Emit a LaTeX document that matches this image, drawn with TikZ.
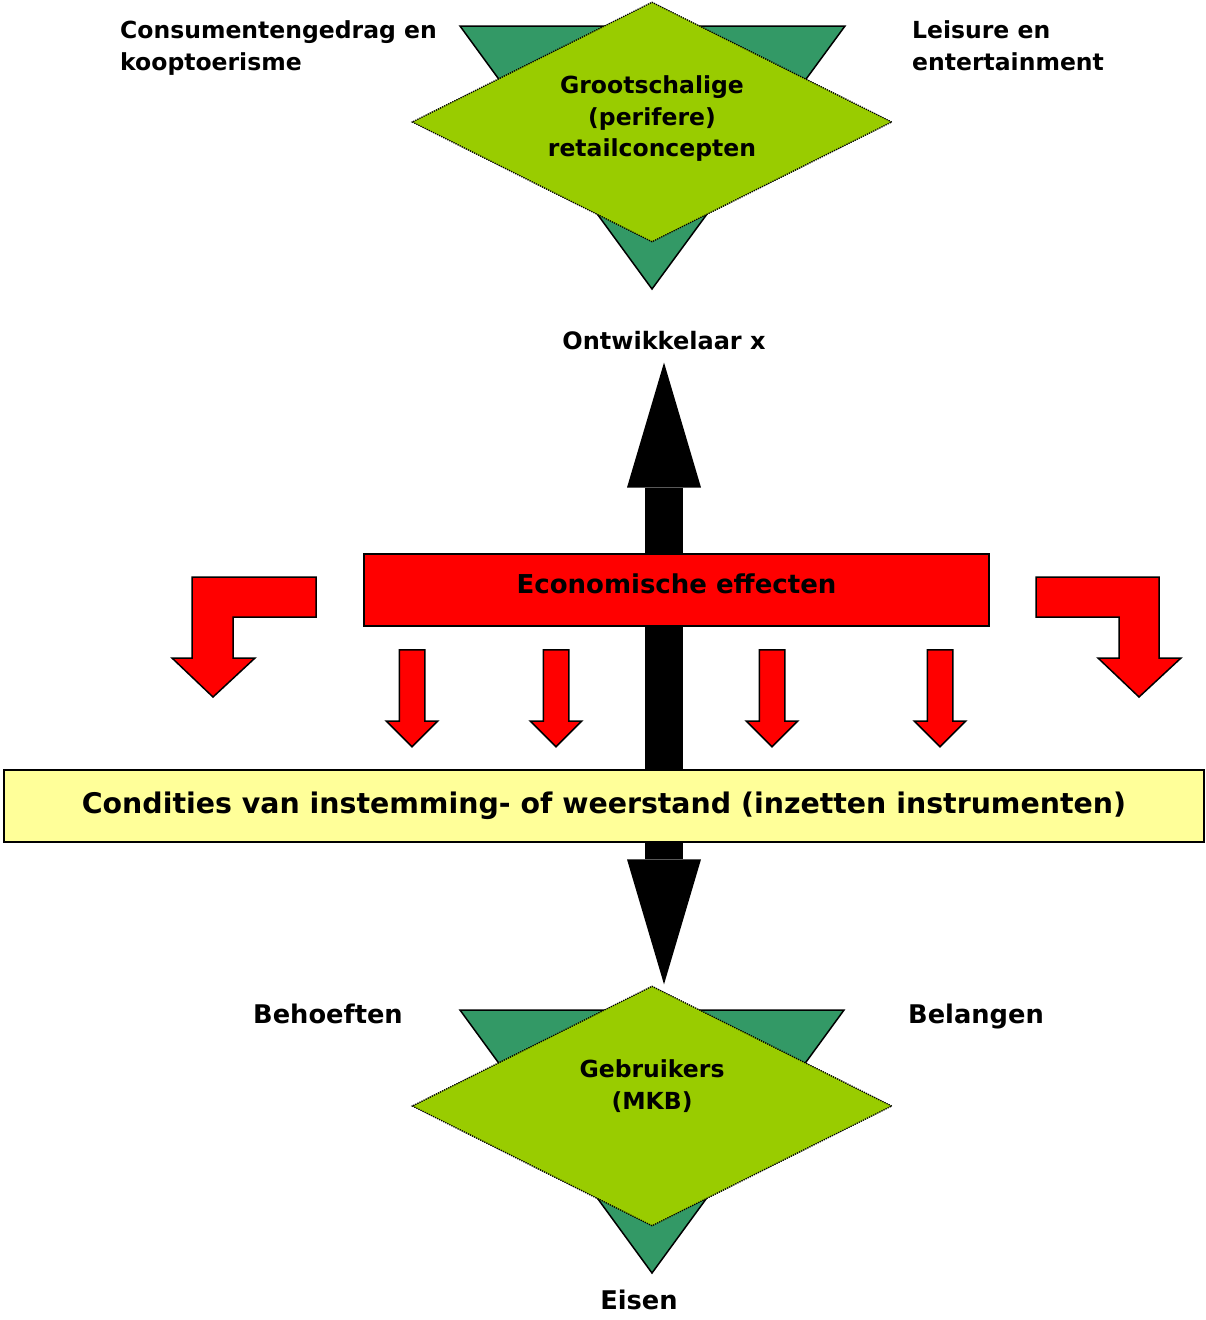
\documentclass[tikz,border=0pt]{standalone}
\usepackage{fontspec}
\setmainfont{DejaVu Sans}
\usepackage{xcolor}
\usetikzlibrary{shapes.geometric,shapes.arrows,arrows.meta,positioning}
\definecolor{leaf}{HTML}{99CC00}
\definecolor{pine}{HTML}{339966}
\definecolor{cream}{HTML}{FFFF99}

\begin{document}
\begin{tikzpicture}[x=1pt, y=-1pt,
    txt/.style={inner sep=0pt, font=\bfseries\fontsize{23.5}{31.7}\selectfont},
    big/.style={inner sep=0pt, font=\bfseries\fontsize{25.7}{31}\selectfont},
    tri/.style={draw, fill=pine, line width=1.5pt, line join=miter},
    gem/.style={diamond, aspect=2, draw, densely dotted, line width=1.3pt, fill=leaf, minimum width=480pt, minimum height=240pt, inner sep=0pt},
    band/.style={rectangle, draw, line width=1.5pt},
    dart/.style={single arrow, draw, fill=red, line width=1.5pt, minimum height=97pt, inner xsep=0pt, inner ysep=12pt, single arrow head extend=13pt, single arrow head indent=0pt, rotate=-90, anchor=tail},
    elbow/.style={draw, fill=red, line width=1.5pt, line join=miter},
    shaft/.style={line width=38pt, {Triangle[width=74pt,length=125pt,line width=0pt]}-{Triangle[width=74pt,length=125pt,line width=0pt]}}
]
    \path[use as bounding box] (0,0) rectangle (1205,1320);

    % top: retail concepts
    \draw[tri] (460,26) -- (845,26) -- (652,289) -- cycle;
    \node[gem] (retail) at (652,122) {};
    \node[txt, align=center] (retailtxt) at (652,118.8) {Grootschalige\\(perifere)\\retailconcepten};
    \node[txt, align=left, anchor=north west] (consument) at (120,20.4) {Consumentengedrag en\\kooptoerisme};
    \node[txt, align=left, anchor=north west] (leisure) at (912,20.4) {Leisure en\\entertainment};
    \node[txt, font=\bfseries\fontsize{24}{28}\selectfont, anchor=base] (ontw) at (664,349.3) {Ontwikkelaar x};

    % bottom: users
    \draw[tri] (460,1010) -- (844,1010) -- (652,1273) -- cycle;
    \node[gem] (users) at (652,1106) {};
    \node[txt, align=center] (userstxt) at (652,1085.8) {Gebruikers\\(MKB)};
    \node[big, anchor=base] (behoeften) at (328,1023.3) {Behoeften};
    \node[big, anchor=base] (belangen) at (976,1023.3) {Belangen};
    \node[big, anchor=base] (eisen) at (639,1309.3) {Eisen};

    \draw[shaft, shorten <=12.7pt, shorten >=1pt] (ontw.south) -- (ontw.south |- users.north);

    % bars
    \node[band, fill=red, minimum width=625pt, minimum height=72pt, text height=20pt, text depth=13pt, font=\bfseries\fontsize{26}{30}\selectfont] (econ) at (676.5,590) {Economische effecten};
    \node[band, fill=cream, minimum width=1200pt, minimum height=72pt, font=\bfseries\fontsize{28.4}{32}\selectfont] (cond) at (604,806) {Condities van instemming- of weerstand (inzetten instrumenten)};

    % red arrows
    \node[dart] (d1) at (412,649) {};
    \node[dart] (d2) at (556,649) {};
    \node[dart] (d3) at (772,649) {};
    \node[dart] (d4) at (940,649) {};
    \draw[elbow] (192,577) -- (316,577) -- (316,617) -- (233,617) -- (233,658) -- (255,658) -- (213,697) -- (172,658) -- (192,658) -- cycle;
    \draw[elbow] (1036,577) -- (1159,577) -- (1159,658) -- (1181,658) -- (1139,697) -- (1098,658) -- (1119,658) -- (1119,617) -- (1036,617) -- cycle;
\end{tikzpicture}
\end{document}
